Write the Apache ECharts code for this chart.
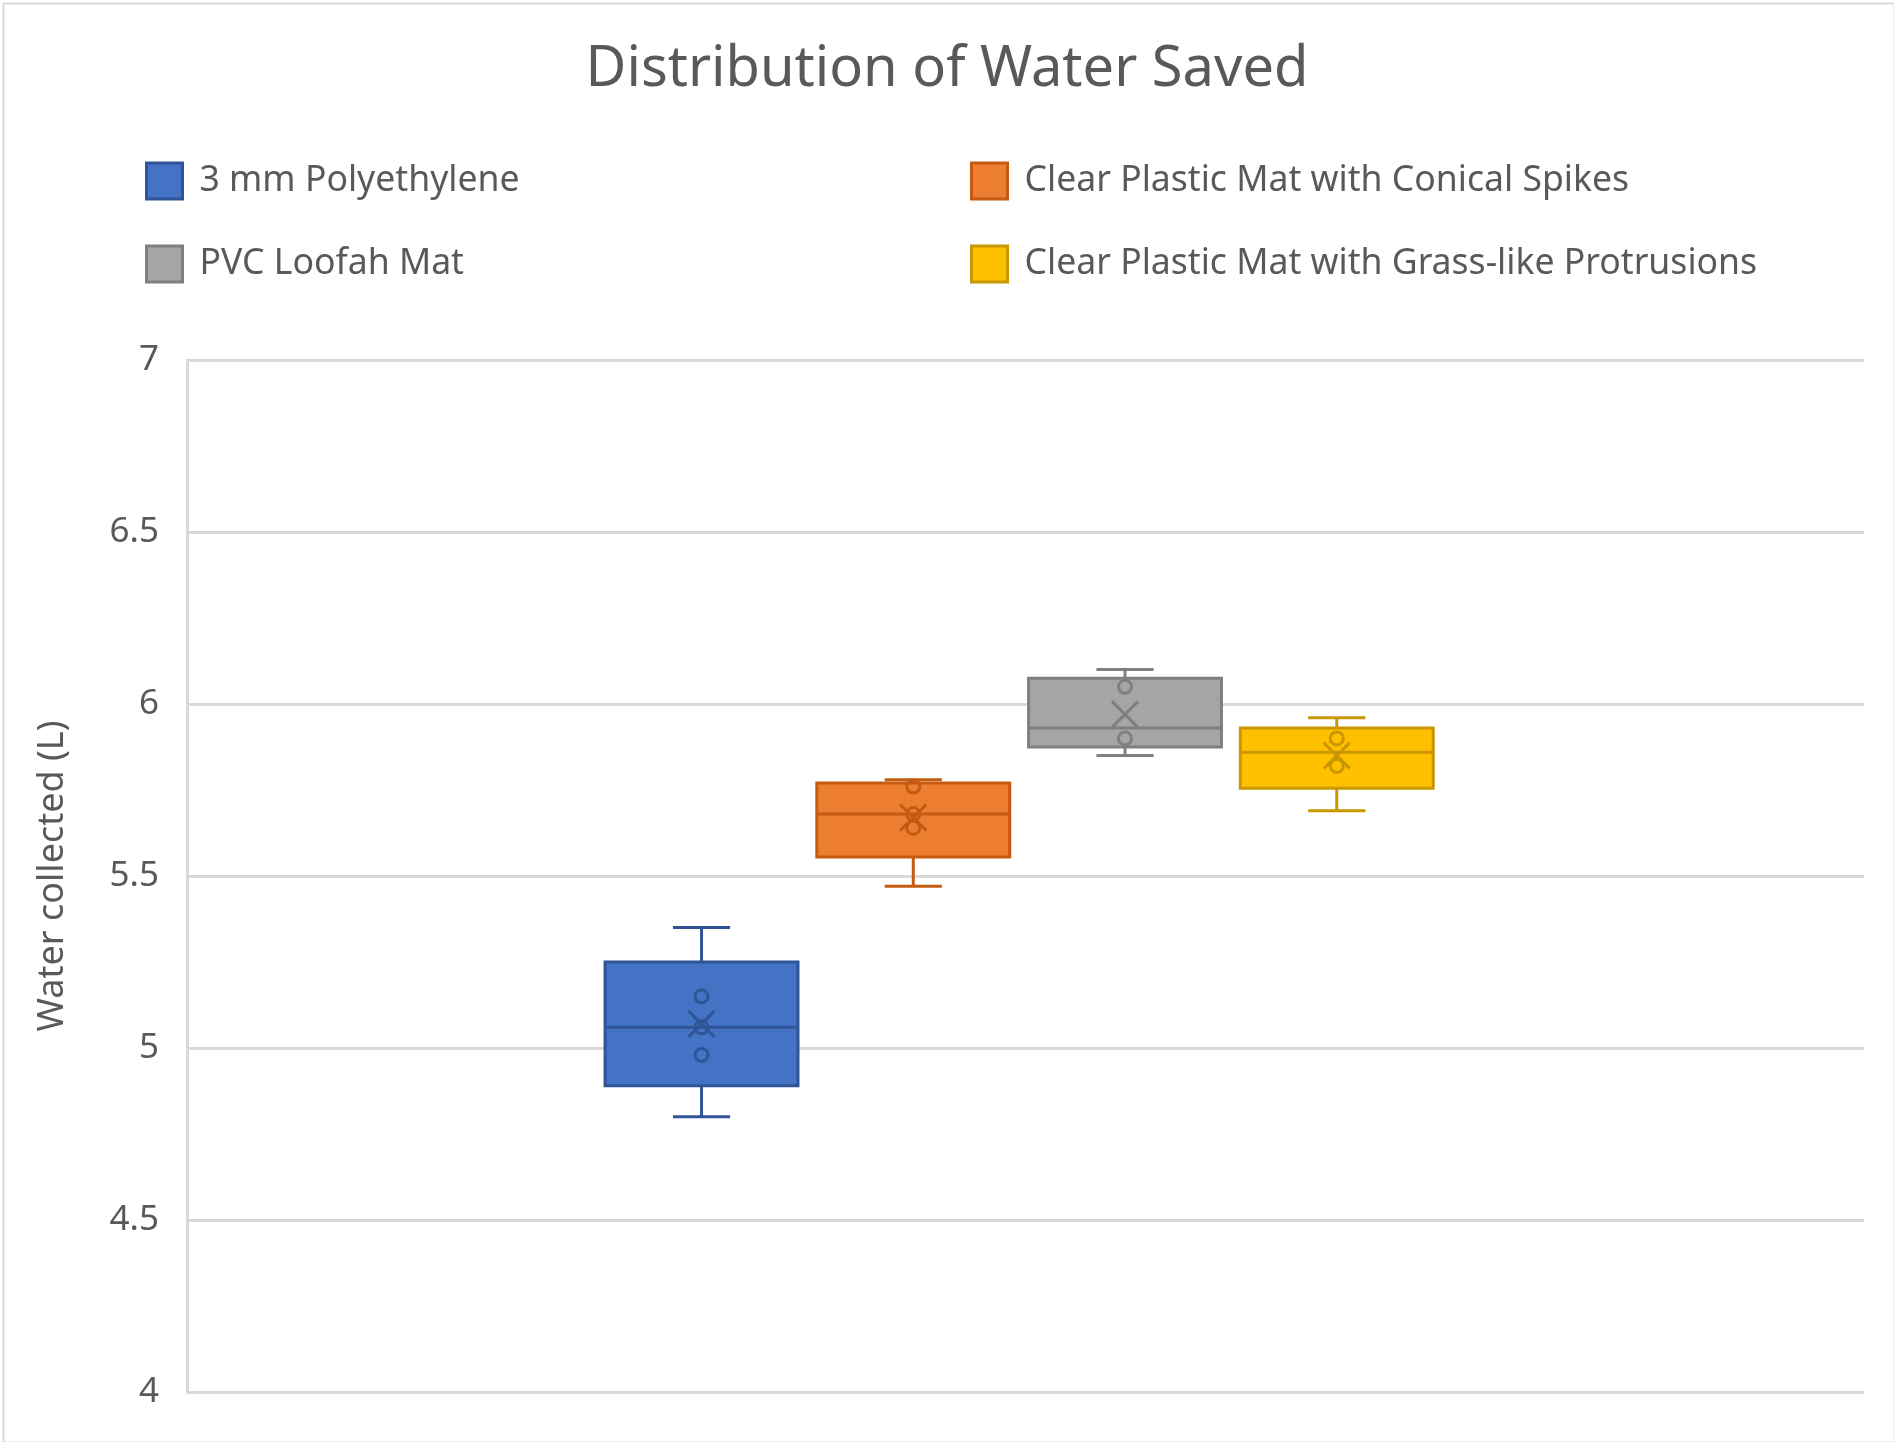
<!DOCTYPE html>
<html>
<head>
<meta charset="utf-8">
<script src="https://cdn.jsdelivr.net/npm/echarts@6/dist/echarts.min.js"></script>
<style>
html,body{margin:0;padding:0;background:#fff;}
#chart{width:1894px;height:1442px;}
</style>
</head>
<body>
<div id="chart"></div>
<script>
// ---- data ----
const groups = ['3 mm Polyethylene', 'Clear Plastic Mat with Conical Spikes', 'PVC Loofah Mat', 'Clear Plastic Mat with Grass-like Protrusions'];
const mins    = [4.80, 5.47, 5.85, 5.69];
const q1s     = [4.89, 5.555, 5.875, 5.755];
const medians = [5.06, 5.68, 5.93, 5.86];
const q3s     = [5.25, 5.77, 6.075, 5.93];
const maxs    = [5.35, 5.78, 6.10, 5.96];
const means   = [5.07, 5.67, 5.97, 5.85];
const pointsPolyethylene = [5.15, 5.06, 4.98];
const pointsConical      = [5.76, 5.68, 5.64];
const pointsLoofah       = [6.05, 5.90];
const pointsGrass        = [5.90, 5.82];
const innerPoints = [pointsPolyethylene, pointsConical, pointsLoofah, pointsGrass];
const yTickLabels = ['4', '4.5', '5', '5.5', '6', '6.5', '7'];

// ---- styles ----
const fills   = ['#4472C4', '#ED7D31', '#A5A5A5', '#FFC000'];
const borders = ['#2F5597', '#C55A11', '#7F7F7F', '#C99700'];
const FONT = 'Noto Sans';
const TXT = '#595959';
const BOX_W = 0.911;   // in x-axis units
const CAP_W = 0.27;

const chart = echarts.init(document.getElementById('chart'), null, {renderer: 'canvas'});

function renderBox(params, api) {
  const x = api.value(0);
  const pMin = api.coord([x, api.value(1)]);
  const pQ1 = api.coord([x, api.value(2)]);
  const pMed = api.coord([x, api.value(3)]);
  const pQ3 = api.coord([x, api.value(4)]);
  const pMax = api.coord([x, api.value(5)]);
  const bw = api.size([BOX_W, 0])[0];
  const cw = api.size([CAP_W, 0])[0];
  const i = params.seriesIndex;
  const fill = fills[i], stroke = borders[i];
  const ls = {stroke: stroke, lineWidth: 3};
  const cx = pMed[0];
  return {
    type: 'group',
    children: [
      {type: 'line', shape: {x1: cx, y1: pMax[1], x2: cx, y2: pQ3[1]}, style: ls},
      {type: 'line', shape: {x1: cx, y1: pQ1[1], x2: cx, y2: pMin[1]}, style: ls},
      {type: 'line', shape: {x1: cx - cw / 2, y1: pMax[1], x2: cx + cw / 2, y2: pMax[1]}, style: ls},
      {type: 'line', shape: {x1: cx - cw / 2, y1: pMin[1], x2: cx + cw / 2, y2: pMin[1]}, style: ls},
      {type: 'rect', shape: {x: cx - bw / 2, y: pQ3[1], width: bw, height: pQ1[1] - pQ3[1]},
        style: {fill: fill, stroke: stroke, lineWidth: 3}},
      {type: 'line', shape: {x1: cx - bw / 2, y1: pMed[1], x2: cx + bw / 2, y2: pMed[1]}, style: ls}
    ]
  };
}

const series = [];
groups.forEach(function (g, i) {
  series.push({
    name: g,
    type: 'custom',
    renderItem: renderBox,
    itemStyle: {color: fills[i], borderColor: borders[i]},
    encode: {x: 0, y: [1, 2, 3, 4, 5]},
    data: [[i, mins[i], q1s[i], medians[i], q3s[i], maxs[i]]],
    z: 2
  });
});
groups.forEach(function (g, i) {
  series.push({
    name: g,
    type: 'scatter',
    symbol: 'circle',
    symbolSize: 13,
    itemStyle: {color: 'rgba(0,0,0,0)', borderColor: borders[i], borderWidth: 3, opacity: 1},
    data: innerPoints[i].map(function (v) { return [i, v]; }),
    z: 3,
    silent: true
  });
  series.push({
    name: g,
    type: 'scatter',
    symbol: 'path://M0,0L10,10M10,0L0,10',
    symbolSize: 26,
    itemStyle: {color: 'rgba(0,0,0,0)', borderColor: borders[i], borderWidth: 3, opacity: 1},
    data: [[i, means[i]]],
    z: 4,
    silent: true
  });
});

const legendPos = [[145, 161], [970, 161], [145, 244], [970, 244]];
const legends = groups.map(function (g, i) {
  return {
    left: legendPos[i][0], top: legendPos[i][1], padding: 0,
    icon: 'rect', itemWidth: 36, itemHeight: 36,
    selectedMode: false,
    data: [{name: g, itemStyle: {color: fills[i], borderColor: borders[i], borderWidth: 3}}],
    textStyle: {fontFamily: FONT, fontSize: 35.6, color: TXT, lineHeight: 40, padding: [0, 0, 0, 12]}
  };
});

chart.setOption({
  animation: false,
  backgroundColor: '#ffffff',
  title: {
    text: 'Distribution of Water Saved',
    left: 'center', top: 37,
    textStyle: {fontFamily: FONT, fontSize: 56, fontWeight: 'normal', color: TXT}
  },
  legend: legends,
  graphic: [{
    type: 'rect', left: 1, top: 1, silent: true,
    shape: {width: 1891, height: 1439},
    style: {fill: 'none', stroke: '#D9D9D9', lineWidth: 2}
  }],
  grid: {left: 187, right: 30, top: 360, bottom: 50, containLabel: false},
  xAxis: {
    type: 'value', min: -2.43, max: 5.49, show: false
  },
  yAxis: {
    type: 'value',
    min: +yTickLabels[0],
    max: +yTickLabels[yTickLabels.length - 1],
    interval: +yTickLabels[1] - +yTickLabels[0],
    name: 'Water collected (L)',
    nameLocation: 'middle',
    nameRotate: 90,
    nameGap: 116,
    nameTextStyle: {fontFamily: FONT, fontSize: 36, color: TXT},
    axisLine: {show: true, onZero: false, lineStyle: {color: '#D9D9D9', width: 3}},
    axisTick: {show: false},
    axisLabel: {
      fontFamily: FONT, fontSize: 35, color: TXT, margin: 28,
      formatter: function (v) { return String(+v.toFixed(1)); }
    },
    splitLine: {show: true, lineStyle: {color: '#D9D9D9', width: 3}}
  },
  series: series
});
</script>
</body>
</html>
